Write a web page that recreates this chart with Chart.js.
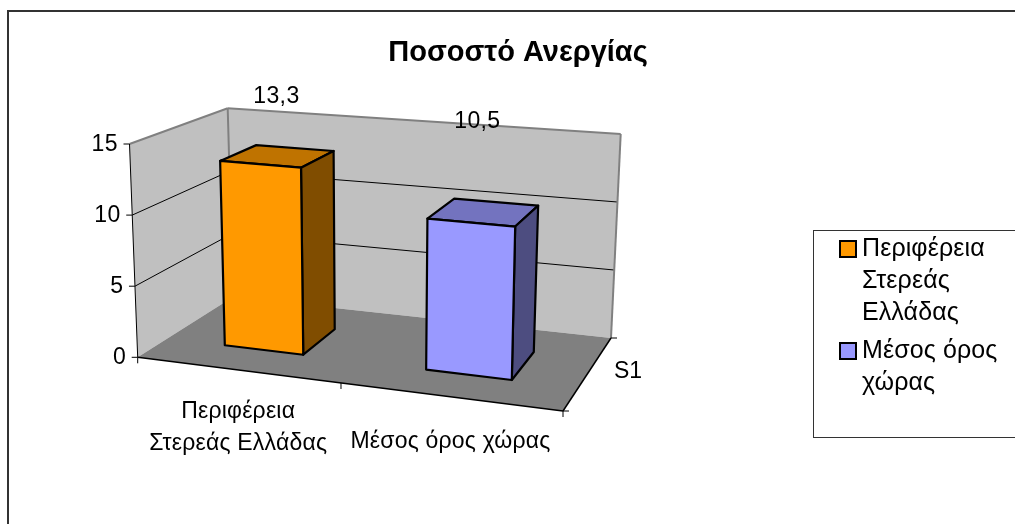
<!DOCTYPE html>
<html>
<head>
<meta charset="utf-8">
<script src="https://cdn.jsdelivr.net/npm/chart.js@4/dist/chart.umd.min.js"></script>
<style>
  html, body { margin: 0; background: #fff; }
  canvas { display: block; }
</style>
</head>
<body>
<canvas id="chart" width="1015" height="524"></canvas>
<script>
const categories = [['Περιφέρεια', 'Στερεάς Ελλάδας'], ['Μέσος όρος χώρας']];
const legendLabels = [['Περιφέρεια', 'Στερεάς', 'Ελλάδας'], ['Μέσος όρος', 'χώρας']];
const values = [13.3, 10.5];
const valueLabels = ['13,3', '10,5'];
const yTicks = [0, 5, 10, 15];
const yMax = 15;
const seriesName = 'S1';
const chartTitle = 'Ποσοστό Ανεργίας';

const FONT = '"Liberation Sans", Arial, sans-serif';
const faceColors = ['#FF9900', '#9999FF'];
const topColors = ['#BF7300', '#7373BF'];
const sideColors = ['#804D00', '#4D4D80'];

// the 3d box as it lands on the page
const c = {
  fbl: [137.7, 357.3], fbr: [563, 411], bbl: [233, 297], bbr: [611, 338],
  ftl: [129.5, 144], ftr: [569, 181], btl: [227.7, 108.3], btr: [620.7, 134],
};
const PERSP = 1.092;      // the far end of the x axis is squeezed a bit
const depth = [0.315, 0.71];
const labelShift = [[-1, -60], [-6, -91]];

function lerp(a, b, t) {
  return [a[0] + (b[0] - a[0]) * t, a[1] + (b[1] - a[1]) * t];
}

function project(u, v, w) {
  const t = u / (u + (1 - u) * PERSP);
  const bottom = lerp(lerp(c.fbl, c.fbr, t), lerp(c.bbl, c.bbr, t), w);
  const top = lerp(lerp(c.ftl, c.ftr, t), lerp(c.btl, c.btr, t), w);
  return lerp(bottom, top, v);
}

function poly(ctx, pts, fill, stroke, lw) {
  ctx.beginPath();
  pts.forEach((p, i) => (i ? ctx.lineTo(p[0], p[1]) : ctx.moveTo(p[0], p[1])));
  ctx.closePath();
  if (fill) { ctx.fillStyle = fill; ctx.fill(); }
  if (stroke) { ctx.strokeStyle = stroke; ctx.lineWidth = lw; ctx.stroke(); }
}

function line(ctx, a, b, color, lw) {
  ctx.beginPath();
  ctx.moveTo(a[0], a[1]);
  ctx.lineTo(b[0], b[1]);
  ctx.strokeStyle = color;
  ctx.lineWidth = lw;
  ctx.stroke();
}

function textLines(ctx, lines, x, y, step) {
  lines.forEach((s, i) => ctx.fillText(s, x, y + i * step));
}

const box3d = {
  id: 'box3d',
  beforeDraw(chart) {
    const ctx = chart.ctx;
    // outer frame runs off the right and bottom of the picture
    ctx.save();
    ctx.strokeStyle = '#333';
    ctx.lineWidth = 2;
    ctx.strokeRect(8, 11, 1100, 600);
    ctx.restore();
  },
  beforeDatasetsDraw(chart) {
    const ctx = chart.ctx;
    const y = chart.scales.y;
    const x = chart.scales.x;
    const vOf = (val) => (y.bottom - y.getPixelForValue(val)) / y.height;
    ctx.save();
    ctx.lineJoin = 'round';

    poly(ctx, [c.ftl, c.btl, c.bbl, c.fbl], '#C0C0C0');
    poly(ctx, [c.btl, c.btr, c.bbr, c.bbl], '#C0C0C0');
    poly(ctx, [c.fbl, c.fbr, c.bbr, c.bbl], '#808080');

    yTicks.forEach((t) => {
      if (t === 0 || t === yMax) return;
      const v = vOf(t);
      line(ctx, project(0, v, 0), project(0, v, 1), '#000', 1);
      line(ctx, project(0, v, 1), project(1, v, 1), '#000', 1);
    });

    line(ctx, c.ftl, c.btl, '#808080', 2);
    line(ctx, c.btl, c.btr, '#808080', 2);
    line(ctx, c.btr, c.bbr, '#808080', 2);
    line(ctx, c.btl, c.bbl, '#808080', 2);

    // axes and tick marks
    line(ctx, c.ftl, c.fbl, '#000', 1);
    line(ctx, c.fbl, c.fbr, '#000', 1.5);
    line(ctx, c.fbr, c.bbr, '#000', 1.5);
    ctx.fillStyle = '#000';
    ctx.font = '23px ' + FONT;
    ctx.letterSpacing = '0.4px';
    ctx.textAlign = 'right';
    ctx.textBaseline = 'middle';
    yTicks.forEach((t) => {
      const p = project(0, vOf(t), 0);
      line(ctx, [p[0] - 6, p[1]], p, '#000', 1);
      ctx.fillText(String(t), p[0] - 11.5, p[1] + 0.5);
    });
    [0, 0.5, 1].forEach((u) => {
      const p = project(u, 0, 0);
      line(ctx, p, [p[0], p[1] + 6], '#000', 1);
    });
    line(ctx, c.fbr, [c.fbr[0] + 6, c.fbr[1]], '#000', 1);
    line(ctx, c.bbr, [c.bbr[0] + 6, c.bbr[1]], '#000', 1);

    ctx.letterSpacing = '0px';
    ctx.textAlign = 'left';
    ctx.fillText(seriesName, 614, 372);

    ctx.letterSpacing = '0.2px';
    ctx.textAlign = 'center';
    categories.forEach((lab, i) => {
      const u = (x.getPixelForTick(i) - x.left) / x.width;
      const p = project(u, 0, 0);
      const lastY = i === 0 ? 444 : 442;
      textLines(ctx, lab, p[0] + 1, lastY - (lab.length - 1) * 32, 32);
    });
    ctx.restore();
  },
  beforeDatasetDraw(chart, args) {
    const ctx = chart.ctx;
    const x = chart.scales.x;
    const y = chart.scales.y;
    const meta = chart.getDatasetMeta(args.index);
    ctx.save();
    ctx.lineJoin = 'round';
    meta.data.forEach((el, i) => {
      const u0 = (el.x - el.width / 2 - x.left) / x.width;
      const u1 = (el.x + el.width / 2 - x.left) / x.width;
      const v = (y.bottom - el.y) / y.height;
      const [w0, w1] = depth;
      const fbl = project(u0, 0, w0), fbr = project(u1, 0, w0), bbr = project(u1, 0, w1);
      const ftl = project(u0, v, w0), ftr = project(u1, v, w0);
      const btl = project(u0, v, w1), btr = project(u1, v, w1);
      poly(ctx, [ftl, btl, btr, ftr], topColors[i], '#000', 2.2);
      poly(ctx, [ftr, btr, bbr, fbr], sideColors[i], '#000', 2.2);
      poly(ctx, [ftl, ftr, fbr, fbl], faceColors[i], '#000', 2.2);
    });
    ctx.restore();
    return false;
  },
  afterDraw(chart) {
    const ctx = chart.ctx;
    const x = chart.scales.x;
    const y = chart.scales.y;
    const meta = chart.getDatasetMeta(0);
    ctx.save();
    ctx.fillStyle = '#000';
    ctx.font = '23px ' + FONT;
    ctx.letterSpacing = '0.4px';
    ctx.textAlign = 'center';
    ctx.textBaseline = 'middle';
    meta.data.forEach((el, i) => {
      const u = (el.x - x.left) / x.width;
      const v = (y.bottom - el.y) / y.height;
      const p = project(u, v, (depth[0] + depth[1]) / 2);
      ctx.fillText(valueLabels[i], p[0] + labelShift[i][0], p[1] + labelShift[i][1]);
    });

    // legend box, open on the right like the reference
    ctx.strokeStyle = '#333';
    ctx.lineWidth = 1;
    ctx.strokeRect(813.5, 230.5, 300, 207);
    ctx.font = '25px ' + FONT;
    ctx.letterSpacing = '0.1px';
    ctx.textAlign = 'left';
    let top = 249;
    legendLabels.forEach((lab, i) => {
      ctx.fillStyle = faceColors[i];
      ctx.fillRect(840, top - 8, 16, 16);
      ctx.strokeStyle = '#000';
      ctx.lineWidth = 2;
      ctx.strokeRect(840, top - 8, 16, 16);
      ctx.fillStyle = '#000';
      textLines(ctx, lab, 862, top, 32);
      top += lab.length * 32 + 6;
    });
    ctx.restore();
  },
};

new Chart(document.getElementById('chart'), {
  type: 'bar',
  data: {
    labels: categories,
    datasets: [{
      label: seriesName,
      data: values,
      backgroundColor: faceColors,
      categoryPercentage: 0.4,
      barPercentage: 1,
    }],
  },
  options: {
    responsive: false,
    animation: false,
    events: [],
    layout: { padding: { left: 21, right: 0, top: 0, bottom: 90 } },
    plugins: {
      legend: { display: false },
      tooltip: { enabled: false },
      title: {
        display: true,
        text: chartTitle,
        color: '#000',
        font: { family: FONT, size: 29, weight: 'bold' },
        padding: { top: 36, bottom: 0 },
      },
    },
    scales: {
      x: { display: false },
      y: {
        display: false,
        min: 0,
        max: yMax,
        afterBuildTicks(axis) { axis.ticks = yTicks.map((value) => ({ value })); },
      },
    },
  },
  plugins: [box3d],
});
</script>
</body>
</html>
